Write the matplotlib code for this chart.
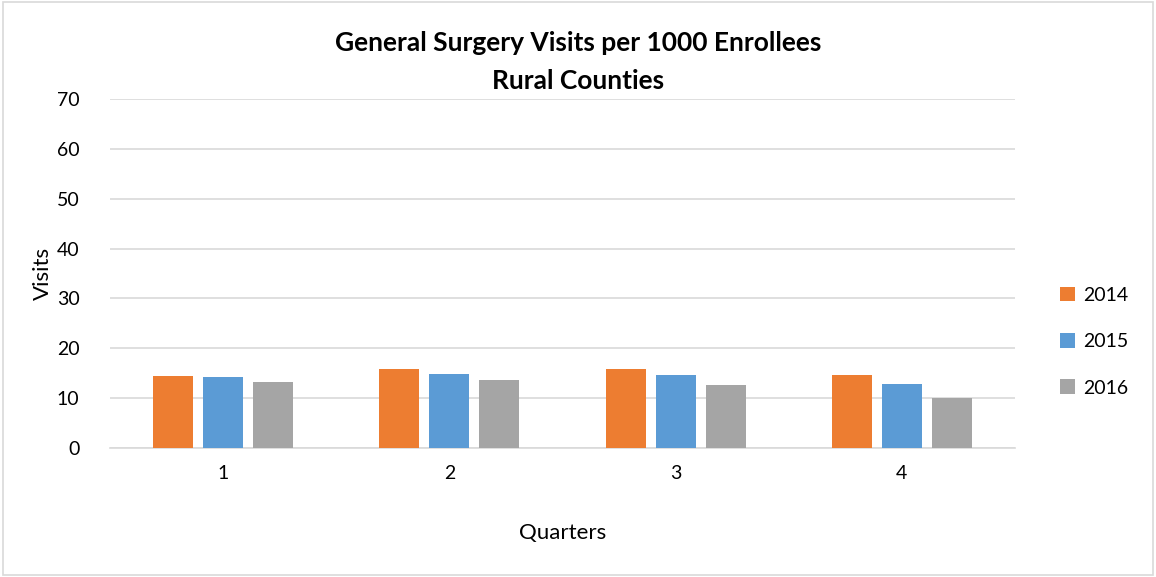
import matplotlib.pyplot as plt
import numpy as np
from matplotlib.patches import Rectangle

quarters = ["1", "2", "3", "4"]
years = ["2014", "2015", "2016"]
visits_2014 = [14.5, 15.8, 15.9, 14.7]
visits_2015 = [14.2, 14.9, 14.6, 12.9]
visits_2016 = [13.3, 13.6, 12.6, 10.0]
colors = ["#ED7D31", "#5B9BD5", "#A5A5A5"]

plt.rcParams['font.family'] = ['Lato', 'DejaVu Sans']

fig = plt.figure(figsize=(11.56, 5.77), dpi=100)
ax = fig.add_axes([0.0952, 0.2236, 0.878 - 0.0952, 0.8284 - 0.2236])

x = np.arange(1, len(quarters) + 1)
width = 0.177
step = 0.221
series = [visits_2014, visits_2015, visits_2016]
for i, (vals, col, lab) in enumerate(zip(series, colors, years)):
    ax.bar(x + (i - 1) * step, vals, width=width, color=col, label=lab, zorder=3)

ax.set_xlim(0.5, 4.5)
ax.set_ylim(0, 70)
ax.set_yticks(range(0, 71, 10))
ax.set_xticks(x)
ax.set_xticklabels(quarters)
ax.yaxis.grid(True, color="#d9d9d9", linewidth=1.2, zorder=0)
for s in ["top", "right", "left"]:
    ax.spines[s].set_visible(False)
ax.spines["bottom"].set_color("#d9d9d9")
ax.spines["bottom"].set_linewidth(1.2)
ax.tick_params(axis="both", length=0, labelsize=14, colors="#000000", pad=12)
ax.tick_params(axis="y", pad=22)

ax.set_xlabel("Quarters", fontsize=16, labelpad=30)
ax.set_ylabel("Visits", fontsize=16, labelpad=3)

fig.text(0.5, 0.925, "General Surgery Visits per 1000 Enrollees", ha="center",
         va="center", fontsize=19, fontweight="bold")
fig.text(0.5, 0.86, "Rural Counties", ha="center", va="center",
         fontsize=19, fontweight="bold")

leg = ax.legend(loc="center left", bbox_to_anchor=(1.03, 0.305), frameon=False,
                fontsize=14, handlelength=0.8, handleheight=0.8,
                labelspacing=1.5, handletextpad=0.4)

fig.patches.append(Rectangle((0.003, 0.004), 0.994, 0.992, transform=fig.transFigure,
                             fill=False, edgecolor="#d9d9d9", linewidth=1.2))

fig.savefig("out.png", dpi=100)
